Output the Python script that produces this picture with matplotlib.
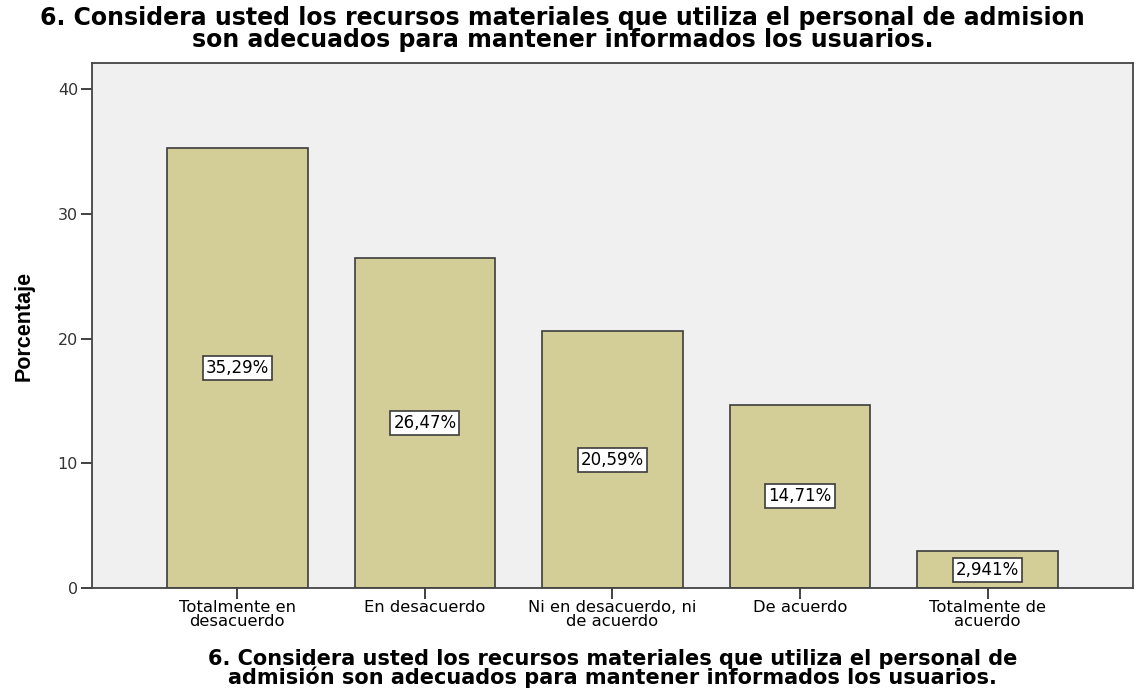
import matplotlib
matplotlib.use("Agg")
import matplotlib.pyplot as plt

categories = ["Totalmente en\ndesacuerdo", "En desacuerdo", "Ni en desacuerdo, ni\nde acuerdo",
              "De acuerdo", "Totalmente de\nacuerdo"]
percent = [35.29, 26.47, 20.59, 14.71, 2.941]
labels = ["35,29%", "26,47%", "20,59%", "14,71%", "2,941%"]

title = ("6. Considera usted los recursos materiales que utiliza el personal de admision\n"
         "son adecuados para mantener informados los usuarios.")
xtitle = ("6. Considera usted los recursos materiales que utiliza el personal de\n"
          "admisión son adecuados para mantener informados los usuarios.")

W, H = 1136, 689
fig = plt.figure(figsize=(W / 100, H / 100), dpi=100)
ax = fig.add_axes([92 / W, 1 - 588 / H, (1133 - 92) / W, (588 - 63) / H])
ax.set_facecolor("#f0f0f0")

x = range(len(categories))
ax.bar(x, percent, width=0.75, color="#d3ce97", edgecolor="#3c3c3c", linewidth=1.2, zorder=2)
for xi, v, lab in zip(x, percent, labels):
    ax.text(xi, v / 2, lab, ha="center", va="center", fontsize=12, family="DejaVu Sans",
            bbox=dict(boxstyle="square,pad=0.18", fc="white", ec="#3c3c3c", lw=1.2), zorder=3)

ax.set_xlim(-0.775, 4.775)
ax.set_ylim(0, 42.1)
ax.set_yticks([0, 10, 20, 30, 40])
ax.set_xticks(list(x))
ax.set_xticklabels(categories, fontsize=11.8, family="DejaVu Sans", linespacing=0.88)
ax.tick_params(axis="both", direction="out", length=8, width=1.3, color="#333333")
ax.tick_params(axis="y", labelcolor="#333333", labelsize=11.5, pad=2)
ax.tick_params(axis="x", pad=1)
for s in ax.spines.values():
    s.set_color("#444444")
    s.set_linewidth(1.3)

ax.set_ylabel("Porcentaje", fontsize=15.5, fontweight="bold", family="Liberation Sans")
ax.yaxis.set_label_coords(-57 / (1133 - 92), 0.5)
ax.set_xlabel(xtitle, fontsize=15, fontweight="bold", family="DejaVu Sans", labelpad=14,
              linespacing=0.88)
fig.text(0.495, 1 - 6 / H, title, ha="center", va="top", fontsize=17, fontweight="bold",
         family="DejaVu Sans", linespacing=0.92)

fig.savefig("out.png", dpi=100)
